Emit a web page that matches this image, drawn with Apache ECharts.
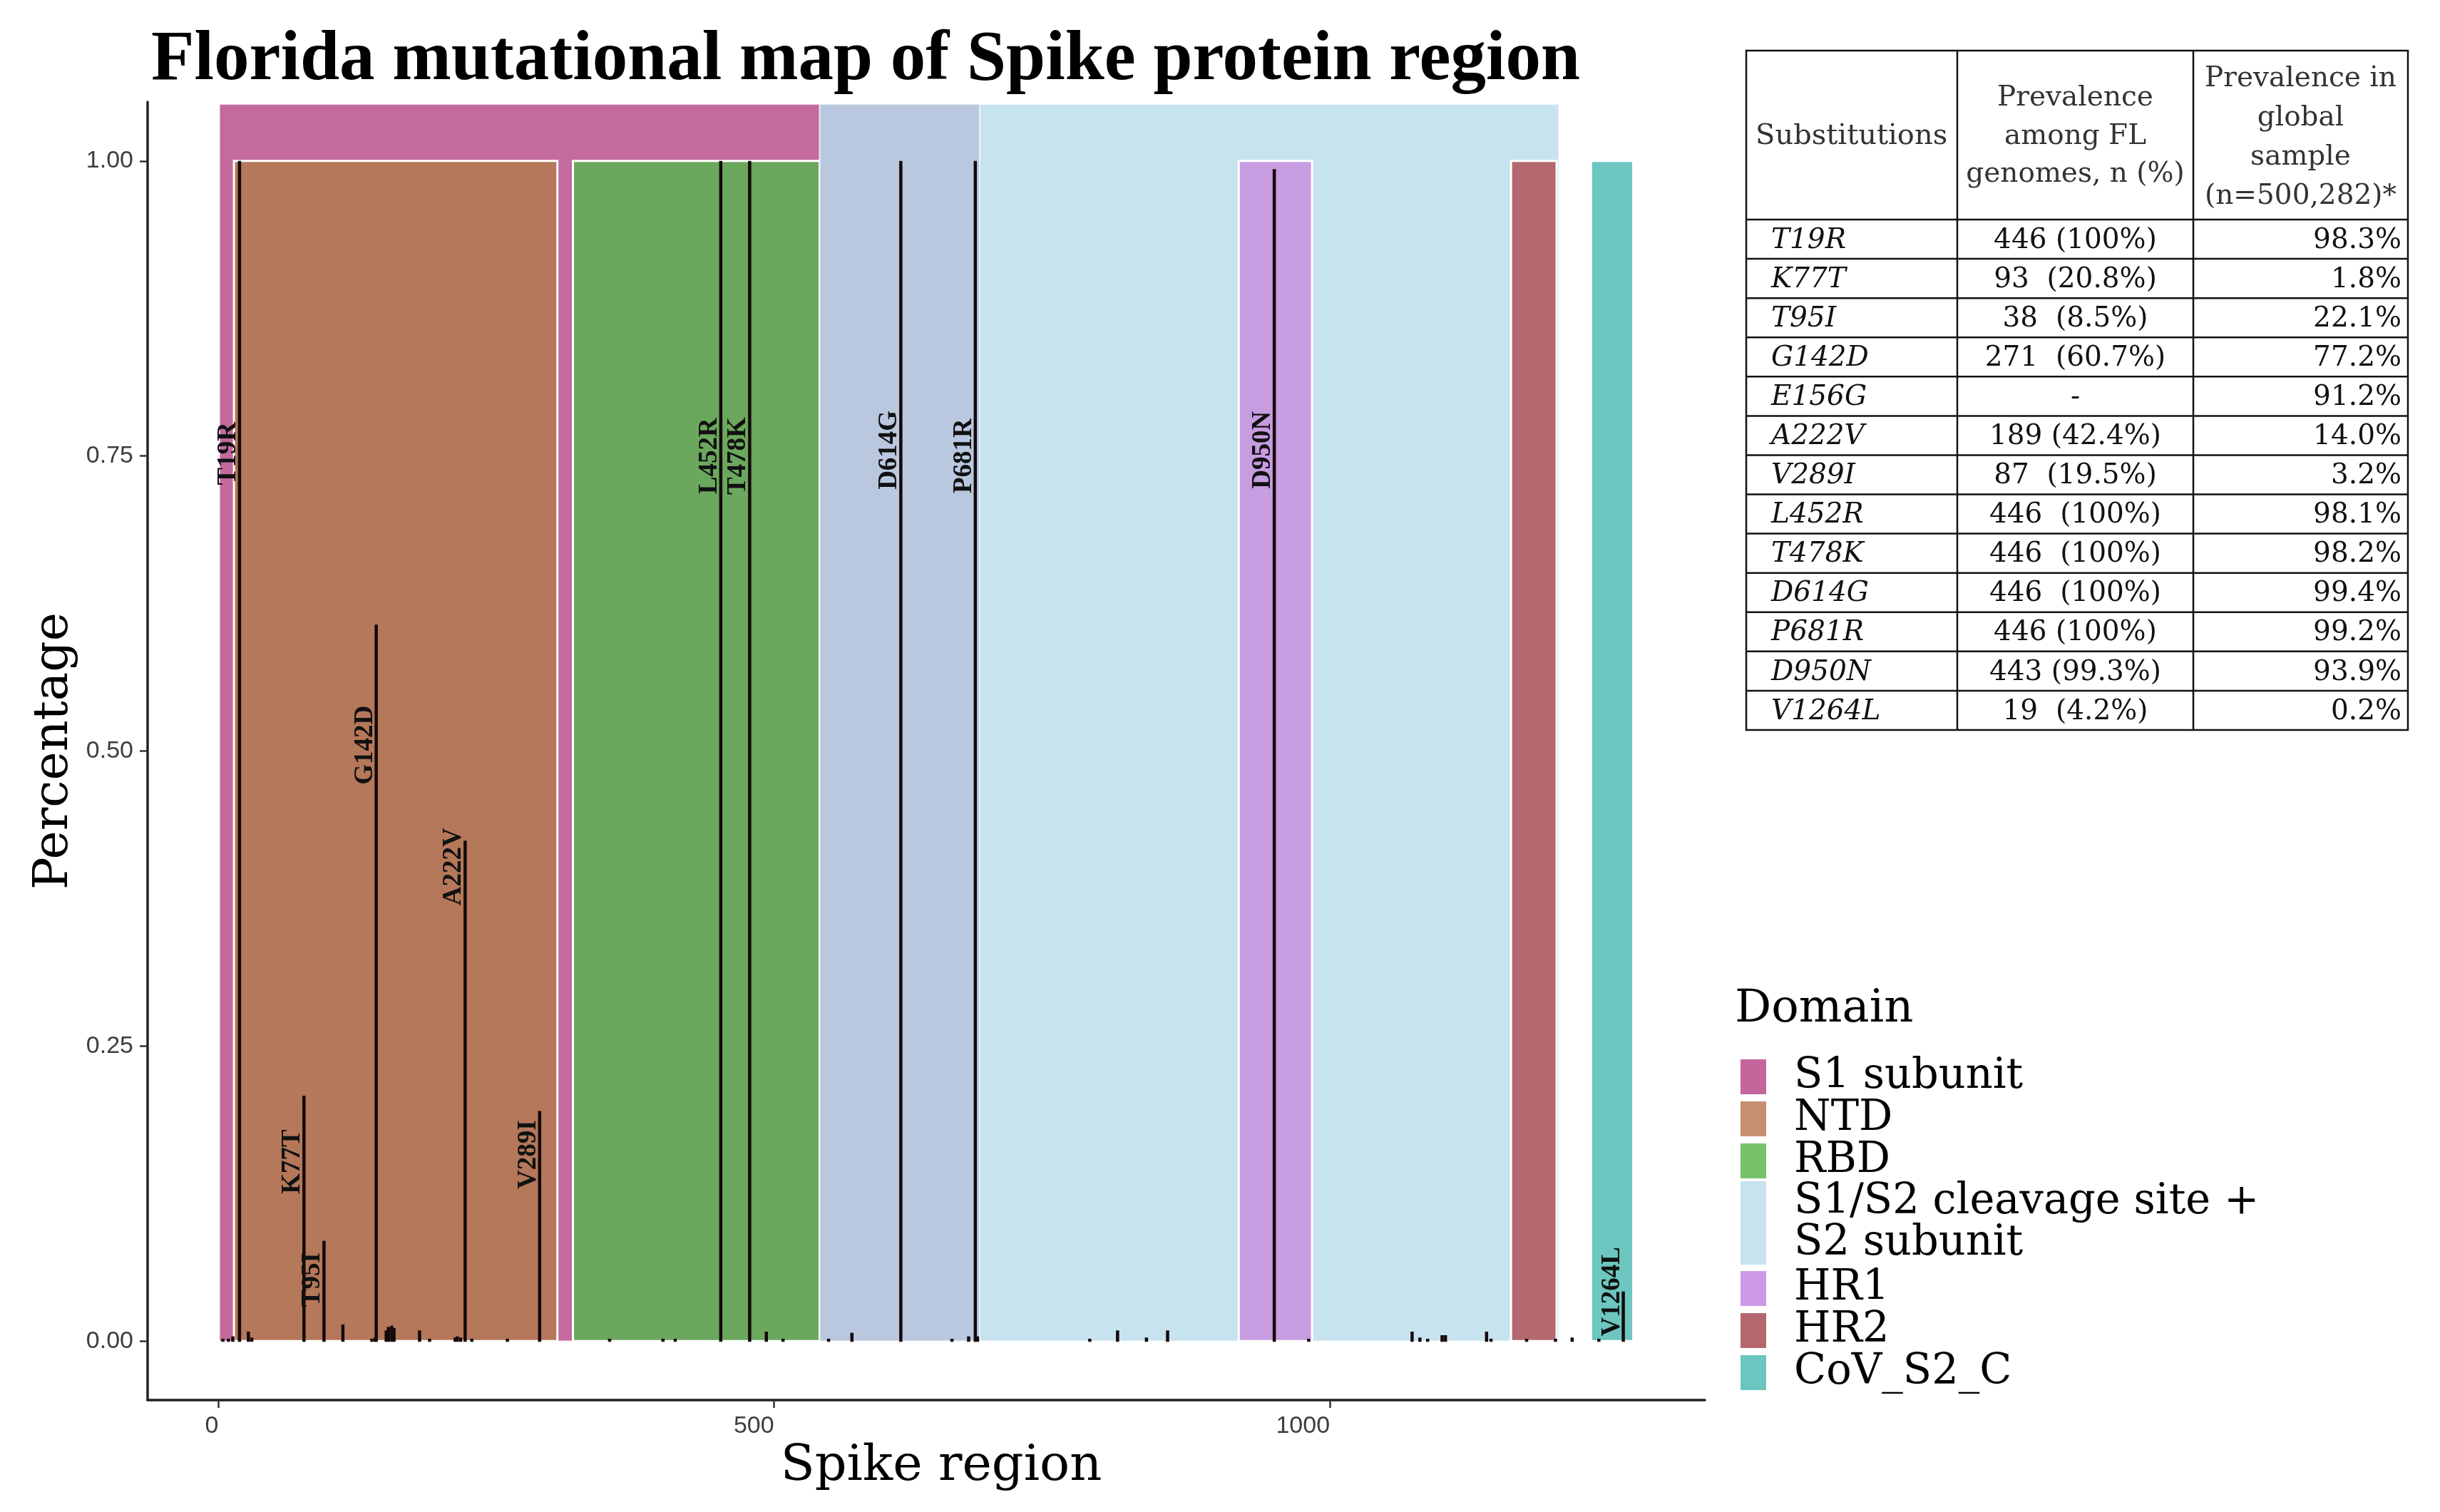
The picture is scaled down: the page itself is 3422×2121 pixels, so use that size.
<!DOCTYPE html>
<html><head><meta charset="utf-8">
<script src="https://cdn.jsdelivr.net/npm/echarts@6/dist/echarts.min.js"></script>
<style>html,body{margin:0;padding:0;background:#fff}#c{width:3422px;height:2121px}</style>
</head><body><div id="c"></div>
<script>
// ---------------- DATA ----------------
const domainNames = ['S1 subunit', 'NTD', 'RBD', 'S1/S2 cleavage site +\nS2 subunit', 'HR1', 'HR2', 'CoV_S2_C'];
// domain rectangles (residue ranges)
const rectDomain = [0, 3, 3, 1, 2, 4, 5, 6];
const rectStart  = [1, 541, 685, 14, 319, 918, 1163, 1235];
const rectEnd    = [541, 685, 1206, 305, 541, 984, 1204, 1273];
const rectTop    = [1.048, 1.048, 1.048, 1, 1, 1, 1, 1];

// labelled substitutions
const mutNames   = ['T19R', 'K77T', 'T95I', 'G142D', 'A222V', 'V289I', 'L452R', 'T478K', 'D614G', 'P681R', 'D950N', 'V1264L'];
const mutPos     = [19, 77, 95, 142, 222, 289, 452, 478, 614, 681, 950, 1264];
const mutFreq    = [1.0, 0.208, 0.085, 0.607, 0.424, 0.195, 1.0, 1.0, 1.0, 1.0, 0.993, 0.042];
const mutLabelAt = [0.752, 0.152, 0.052, 0.505, 0.402, 0.158, 0.75, 0.75, 0.755, 0.75, 0.755, 0.042];

// minor (unlabelled) substitutions near the baseline
const minorPos  = [4, 9, 13, 27, 30, 112, 138, 141, 151, 153, 156, 158, 181, 190, 213, 215, 218, 228, 260, 352, 400, 411, 493, 508, 549, 570, 660, 675, 683, 784, 809, 835, 854, 981, 1074, 1081, 1088, 1101, 1104, 1141, 1145, 1177, 1203, 1218, 1242];
const minorFreq = [0.002, 0.002, 0.004, 0.008, 0.003, 0.014, 0.002, 0.003, 0.009, 0.012, 0.013, 0.011, 0.009, 0.002, 0.003, 0.004, 0.003, 0.002, 0.002, 0.002, 0.002, 0.002, 0.008, 0.002, 0.002, 0.007, 0.002, 0.004, 0.004, 0.002, 0.009, 0.003, 0.009, 0.002, 0.008, 0.003, 0.002, 0.005, 0.005, 0.008, 0.002, 0.002, 0.002, 0.003, 0.002];

const xTicks = [0, 500, 1000];
const yTicks = [0, 0.25, 0.5, 0.75, 1];

// table
const tableHeader = ['Substitutions', 'Prevalence\namong FL\ngenomes, n (%)', 'Prevalence in\nglobal\nsample\n(n=500,282)*'];
const tableSubs   = ['T19R', 'K77T', 'T95I', 'G142D', 'E156G', 'A222V', 'V289I', 'L452R', 'T478K', 'D614G', 'P681R', 'D950N', 'V1264L'];
const tableFL     = ['446 (100%)', '93  (20.8%)', '38  (8.5%)', '271  (60.7%)', '-', '189 (42.4%)', '87  (19.5%)', '446  (100%)', '446  (100%)', '446  (100%)', '446 (100%)', '443 (99.3%)', '19  (4.2%)'];
const tableGlobal = ['98.3%', '1.8%', '22.1%', '77.2%', '91.2%', '14.0%', '3.2%', '98.1%', '98.2%', '99.4%', '99.2%', '93.9%', '0.2%'];

// ---------------- STYLE ----------------
const rectFill    = ['#C46A9D', '#B9C8DF', '#C7E3EF', '#B5785A', '#6BA85E', '#C79CE0', '#B5686F', '#6DC6BF'];
const legendColor = ['#C2669C', '#C4906F', '#78C26A', '#C7E3EF', '#CC9AE6', '#B5676E', '#6CC5BF'];
const SERIF = '"DejaVu Serif"';

const chart = echarts.init(document.getElementById('c'), null, {renderer: 'canvas', width: 3422, height: 2121});

const domainSeries = domainNames.map((name, d) => {
  const data = [];
  rectStart.forEach((s, i) => { if (rectDomain[i] === d) data.push([s, rectEnd[i], rectTop[i], i]); });
  return {
    type: 'custom', name, coordinateSystem: 'cartesian2d', silent: true, z: 1,
    itemStyle: {color: legendColor[d]},
    encode: {x: [0, 1], y: 2},
    data,
    renderItem(params, api) {
      const i = api.value(3);
      const p0 = api.coord([api.value(0), 0]);
      const p1 = api.coord([api.value(1), api.value(2)]);
      const inner = rectTop[i] <= 1;
      return {type: 'rect',
        shape: {x: p0[0], y: p1[1], width: p1[0] - p0[0], height: p0[1] - p1[1]},
        style: {fill: rectFill[i], stroke: inner ? '#ffffff' : 'rgba(255,255,255,0.55)', lineWidth: inner ? 3 : 2}};
    }
  };
});

const allPos = mutPos.concat(minorPos);
const allFreq = mutFreq.concat(minorFreq);

const segSeries = {
  type: 'custom', name: 'mutations', silent: true, z: 3,
  encode: {x: 0, y: 1},
  data: allPos.map((p, i) => [p, allFreq[i]]),
  renderItem(params, api) {
    const a = api.coord([api.value(0), 0]);
    const b = api.coord([api.value(0), api.value(1)]);
    return {type: 'line', shape: {x1: a[0], y1: a[1] + 1, x2: b[0], y2: b[1]},
      style: {stroke: '#140909', lineWidth: 4.5}};
  }
};

const labelSeries = {
  type: 'custom', name: 'labels', silent: true, z: 4,
  encode: {x: 0, y: 1},
  data: mutPos.map((p, i) => [p, mutLabelAt[i], i]),
  renderItem(params, api) {
    const i = api.value(2);
    const pt = api.coord([api.value(0), api.value(1)]);
    return {type: 'text', x: pt[0] + 3, y: pt[1], rotation: Math.PI / 2,
      style: {text: mutNames[i], font: 'bold 37px "Liberation Serif"', fill: '#111',
        align: 'center', verticalAlign: 'bottom'}};
  }
};

// ---------------- TABLE (graphic) ----------------
const T = {x0: 2449, x1: 3377, y0: 71, y1: 1024, c1: 2745, c2: 3076, hb: 308};
const rowH = (T.y1 - T.hb) / tableSubs.length;
const tableEls = [];
tableEls.push({type: 'rect', shape: {x: T.x0, y: T.y0, width: T.x1 - T.x0, height: T.y1 - T.y0},
  style: {fill: '#fff', stroke: '#111', lineWidth: 2.5}});
[T.c1, T.c2].forEach(cx => tableEls.push({type: 'line', shape: {x1: cx, y1: T.y0, x2: cx, y2: T.y1}, style: {stroke: '#111', lineWidth: 2.5}}));
for (let k = 0; k < tableSubs.length; k++) {
  const y = T.hb + k * rowH;
  tableEls.push({type: 'line', shape: {x1: T.x0, y1: y, x2: T.x1, y2: y}, style: {stroke: '#111', lineWidth: 2.5}});
}
const hy = (T.y0 + T.hb) / 2 + 2;
tableEls.push({type: 'text', x: T.x0 + 13, y: hy, style: {text: tableHeader[0], font: '40px ' + SERIF, fill: '#333', align: 'left', verticalAlign: 'middle'}});
tableEls.push({type: 'text', x: (T.c1 + T.c2) / 2, y: hy, style: {text: tableHeader[1], font: '39px ' + SERIF, fill: '#333', align: 'center', verticalAlign: 'middle', lineHeight: 53.5}});
tableEls.push({type: 'text', x: (T.c2 + T.x1) / 2, y: hy + 2, style: {text: tableHeader[2], font: '39px ' + SERIF, fill: '#333', align: 'center', verticalAlign: 'middle', lineHeight: 55}});
tableSubs.forEach((s, k) => {
  const cy = T.hb + (k + 0.5) * rowH + 2;
  tableEls.push({type: 'text', x: T.x0 + 35, y: cy, style: {text: s, font: 'italic 39px ' + SERIF, fill: '#111', align: 'left', verticalAlign: 'middle'}});
  tableEls.push({type: 'text', x: (T.c1 + T.c2) / 2, y: cy, style: {text: tableFL[k], font: '39px ' + SERIF, fill: '#111', align: 'center', verticalAlign: 'middle'}});
  tableEls.push({type: 'text', x: T.x1 - 9, y: cy, style: {text: tableGlobal[k], font: '39px ' + SERIF, fill: '#111', align: 'right', verticalAlign: 'middle'}});
});

const legendCommon = {
  orient: 'vertical', left: 2436, icon: 'rect', itemWidth: 36, itemHeight: 49, itemGap: 0,
  selectedMode: false,
  textStyle: {fontFamily: 'DejaVu Serif', fontSize: 59, color: '#000', lineHeight: 57.5, padding: [0, 0, 0, 34]}
};

const option = {
  backgroundColor: '#fff',
  animation: false,
  title: {text: 'Florida mutational map of Spike protein region', left: 207, top: 31,
    textStyle: {fontFamily: 'Liberation Serif', fontWeight: 'bold', fontSize: 99, color: '#000'}},
  grid: {left: 207, right: 1031, top: 143, bottom: 157, containLabel: false},
  xAxis: {
    type: 'value', min: -63.7, max: 1337.4,
    name: 'Spike region', nameLocation: 'middle', nameGap: 50,
    nameTextStyle: {fontFamily: 'DejaVu Serif', fontSize: 70, color: '#000', padding: [0, 0, 0, 42]},
    axisLine: {onZero: false, lineStyle: {color: '#222', width: 3.5}},
    axisTick: {customValues: xTicks, length: 11, lineStyle: {color: '#333', width: 2.5}},
    axisLabel: {customValues: xTicks, margin: 20, align: 'right', fontFamily: 'Liberation Sans', fontSize: 34, color: '#3d3d3d',
      formatter: v => String(v)},
    splitLine: {show: false}
  },
  yAxis: {
    type: 'value', min: -0.05, max: 1.05,
    name: 'Percentage', nameLocation: 'middle', nameGap: 96, nameRotate: 90,
    nameTextStyle: {fontFamily: 'DejaVu Serif', fontSize: 68, color: '#000'},
    axisLine: {onZero: false, lineStyle: {color: '#222', width: 3.5}},
    axisTick: {customValues: yTicks, length: 11, lineStyle: {color: '#333', width: 2.5}},
    axisLabel: {customValues: yTicks, margin: 20, fontFamily: 'Liberation Sans', fontSize: 34, color: '#3d3d3d',
      formatter: v => Number(v).toFixed(2)},
    splitLine: {show: false}
  },
  legend: [
    Object.assign({}, legendCommon, {top: 1476, data: domainNames.slice(0, 3)}),
    Object.assign({}, legendCommon, {top: 1652, itemHeight: 117, data: domainNames.slice(3, 4)}),
    Object.assign({}, legendCommon, {top: 1773, data: domainNames.slice(4)})
  ],
  graphic: [
    {type: 'text', left: 2433, top: 1384, style: {text: 'Domain', font: '64px ' + SERIF, fill: '#000'}},
    {type: 'group', children: tableEls}
  ],
  series: domainSeries.concat([segSeries, labelSeries])
};
chart.setOption(option);
</script>
</body></html>
